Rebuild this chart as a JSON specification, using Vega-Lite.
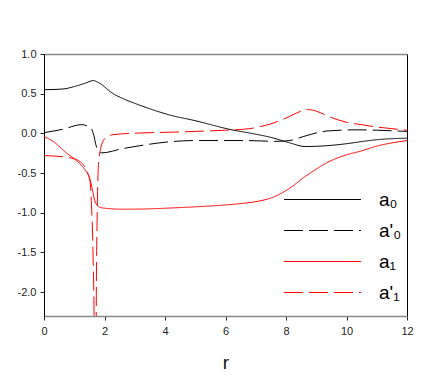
{
  "$schema": "https://vega.github.io/schema/vega-lite/v6.json",
  "width": 363,
  "height": 262,
  "autosize": "none",
  "padding": {"left": 44, "top": 54, "right": 29, "bottom": 60},
  "background": "white",
  "config": {
    "view": {"stroke": "#000", "strokeWidth": 1},
    "font": "Liberation Sans",
    "axis": {"labelFont": "Liberation Sans", "titleFont": "Liberation Sans", "labelColor": "#222", "titleColor": "#111", "grid": false}
  },
  "datasets": {
    "curves": [
      {"r": 0, "v": 0.55, "s": "a₀"}, {"r": 0.64, "v": 0.56, "s": "a₀"}, {"r": 1.0, "v": 0.59, "s": "a₀"}, {"r": 1.35, "v": 0.63, "s": "a₀"}, {"r": 1.63, "v": 0.665, "s": "a₀"}, {"r": 1.8, "v": 0.64, "s": "a₀"}, {"r": 2.29, "v": 0.5, "s": "a₀"}, {"r": 2.6, "v": 0.44, "s": "a₀"}, {"r": 3.06, "v": 0.37, "s": "a₀"}, {"r": 3.5, "v": 0.31, "s": "a₀"}, {"r": 4.17, "v": 0.23, "s": "a₀"}, {"r": 5.0, "v": 0.16, "s": "a₀"}, {"r": 6.15, "v": 0.05, "s": "a₀"}, {"r": 7.0, "v": -0.01, "s": "a₀"}, {"r": 7.5, "v": -0.05, "s": "a₀"}, {"r": 8.13, "v": -0.12, "s": "a₀"}, {"r": 8.63, "v": -0.165, "s": "a₀"}, {"r": 9.35, "v": -0.155, "s": "a₀"}, {"r": 10.0, "v": -0.13, "s": "a₀"}, {"r": 10.56, "v": -0.1, "s": "a₀"}, {"r": 11.0, "v": -0.08, "s": "a₀"}, {"r": 12.0, "v": -0.06, "s": "a₀"},
      {"r": 0, "v": 0.01, "s": "a'₀"}, {"r": 0.6, "v": 0.05, "s": "a'₀"}, {"r": 1.25, "v": 0.11, "s": "a'₀"}, {"r": 1.45, "v": 0.09, "s": "a'₀"}, {"r": 1.55, "v": 0.07, "s": "a'₀"}, {"r": 1.65, "v": -0.03, "s": "a'₀"}, {"r": 1.72, "v": -0.15, "s": "a'₀"}, {"r": 1.8, "v": -0.22, "s": "a'₀"}, {"r": 1.9, "v": -0.245, "s": "a'₀"}, {"r": 2.07, "v": -0.24, "s": "a'₀"}, {"r": 2.5, "v": -0.2, "s": "a'₀"}, {"r": 3.17, "v": -0.155, "s": "a'₀"}, {"r": 4.17, "v": -0.105, "s": "a'₀"}, {"r": 4.94, "v": -0.09, "s": "a'₀"}, {"r": 6.6, "v": -0.09, "s": "a'₀"}, {"r": 7.7, "v": -0.1, "s": "a'₀"}, {"r": 8.13, "v": -0.09, "s": "a'₀"}, {"r": 8.57, "v": -0.04, "s": "a'₀"}, {"r": 9.35, "v": 0.03, "s": "a'₀"}, {"r": 10.34, "v": 0.045, "s": "a'₀"}, {"r": 11.0, "v": 0.04, "s": "a'₀"}, {"r": 12.0, "v": 0.025, "s": "a'₀"},
      {"r": 0, "v": -0.04, "s": "a₁"}, {"r": 0.3, "v": -0.1, "s": "a₁"}, {"r": 0.72, "v": -0.24, "s": "a₁"}, {"r": 1.0, "v": -0.32, "s": "a₁"}, {"r": 1.19, "v": -0.385, "s": "a₁"}, {"r": 1.36, "v": -0.46, "s": "a₁"}, {"r": 1.47, "v": -0.53, "s": "a₁"}, {"r": 1.55, "v": -0.62, "s": "a₁"}, {"r": 1.62, "v": -0.75, "s": "a₁"}, {"r": 1.68, "v": -0.85, "s": "a₁"}, {"r": 1.75, "v": -0.9, "s": "a₁"}, {"r": 1.85, "v": -0.93, "s": "a₁"}, {"r": 2.07, "v": -0.945, "s": "a₁"}, {"r": 2.6, "v": -0.955, "s": "a₁"}, {"r": 3.5, "v": -0.95, "s": "a₁"}, {"r": 4.17, "v": -0.94, "s": "a₁"}, {"r": 5.0, "v": -0.925, "s": "a₁"}, {"r": 6.04, "v": -0.9, "s": "a₁"}, {"r": 6.6, "v": -0.88, "s": "a₁"}, {"r": 7.14, "v": -0.85, "s": "a₁"}, {"r": 7.6, "v": -0.8, "s": "a₁"}, {"r": 7.91, "v": -0.74, "s": "a₁"}, {"r": 8.2, "v": -0.67, "s": "a₁"}, {"r": 8.57, "v": -0.56, "s": "a₁"}, {"r": 9.0, "v": -0.45, "s": "a₁"}, {"r": 9.3, "v": -0.38, "s": "a₁"}, {"r": 10.0, "v": -0.27, "s": "a₁"}, {"r": 10.5, "v": -0.22, "s": "a₁"}, {"r": 11.0, "v": -0.16, "s": "a₁"}, {"r": 11.5, "v": -0.12, "s": "a₁"}, {"r": 12.0, "v": -0.09, "s": "a₁"},
      {"r": 0, "v": -0.28, "s": "a'₁"}, {"r": 0.5, "v": -0.29, "s": "a'₁"}, {"r": 1.0, "v": -0.32, "s": "a'₁"}, {"r": 1.2, "v": -0.36, "s": "a'₁"}, {"r": 1.35, "v": -0.42, "s": "a'₁"}, {"r": 1.45, "v": -0.5, "s": "a'₁"}, {"r": 1.52, "v": -0.6, "s": "a'₁"}, {"r": 1.57, "v": -0.9, "s": "a'₁"}, {"r": 1.62, "v": -1.5, "s": "a'₁"}, {"r": 1.66, "v": -2.5, "s": "a'₁"}, {"r": 1.68, "v": -4, "s": "a'₁"}, {"r": 1.71, "v": -4, "s": "a'₁"}, {"r": 1.73, "v": -2.0, "s": "a'₁"}, {"r": 1.76, "v": -1.0, "s": "a'₁"}, {"r": 1.8, "v": -0.39, "s": "a'₁"}, {"r": 1.88, "v": -0.18, "s": "a'₁"}, {"r": 1.96, "v": -0.09, "s": "a'₁"}, {"r": 2.1, "v": -0.04, "s": "a'₁"}, {"r": 2.29, "v": -0.016, "s": "a'₁"}, {"r": 3.17, "v": 0.005, "s": "a'₁"}, {"r": 4.17, "v": 0.015, "s": "a'₁"}, {"r": 5.0, "v": 0.025, "s": "a'₁"}, {"r": 6.0, "v": 0.04, "s": "a'₁"}, {"r": 6.8, "v": 0.06, "s": "a'₁"}, {"r": 7.2, "v": 0.09, "s": "a'₁"}, {"r": 7.5, "v": 0.12, "s": "a'₁"}, {"r": 8.1, "v": 0.21, "s": "a'₁"}, {"r": 8.57, "v": 0.29, "s": "a'₁"}, {"r": 8.75, "v": 0.3, "s": "a'₁"}, {"r": 9.0, "v": 0.28, "s": "a'₁"}, {"r": 9.5, "v": 0.2, "s": "a'₁"}, {"r": 10.0, "v": 0.14, "s": "a'₁"}, {"r": 10.5, "v": 0.11, "s": "a'₁"}, {"r": 11.0, "v": 0.08, "s": "a'₁"}, {"r": 11.5, "v": 0.06, "s": "a'₁"}, {"r": 12.0, "v": 0.04, "s": "a'₁"}
    ]
  },
  "data": {"name": "curves"},
  "resolve": {"axis": {"x": "independent"}},
  "layer": [
    {
      "mark": {"type": "line", "clip": true, "interpolate": "monotone"},
      "encoding": {
        "x": {"field": "r", "type": "quantitative", "scale": {"domain": [0, 12], "nice": false, "zero": false},
          "axis": {"orient": "bottom", "title": "r", "titleFontSize": 19, "titleFontWeight": "normal", "titlePadding": 17, "values": [0, 2, 4, 6, 8, 10, 12], "labelFontSize": 11, "tickSize": 4, "tickColor": "#222", "domainColor": "#888", "domainWidth": 1.6, "labelPadding": 5, "labelFlush": false}},
        "y": {"field": "v", "type": "quantitative", "scale": {"domain": [-2.3, 1.0], "nice": false, "zero": false},
          "axis": {"title": null, "values": [1.0, 0.5, 0.0, -0.5, -1.0, -1.5, -2.0], "labelExpr": "replace(format(datum.value, '.1f'), '−', '-')", "labelFontSize": 11, "tickSize": 4, "tickColor": "#222", "domainColor": "#000", "labelPadding": 4, "labelFlush": false}},
        "color": {"field": "s", "type": "nominal", "title": null,
          "scale": {"domain": ["a₀", "a'₀", "a₁", "a'₁"], "range": ["#000000", "#000000", "#ff0000", "#ff0000"]},
          "legend": {"orient": "none", "legendX": 268, "legendY": 135, "symbolType": "M-4,0H4", "symbolSize": 370, "symbolStrokeWidth": 1.2, "labelFontSize": 19, "labelFont": "Liberation Sans", "labelColor": "#000", "labelOffset": 46, "rowPadding": 10}},
        "strokeDash": {"field": "s", "type": "nominal", "title": null,
          "scale": {"domain": ["a₀", "a'₀", "a₁", "a'₁"], "range": [[1, 0], [19, 6], [1, 0], [19, 6]]}},
        "strokeWidth": {"field": "s", "type": "nominal", "legend": null,
          "scale": {"domain": ["a₀", "a'₀", "a₁", "a'₁"], "range": [1, 1, 1.4, 1.4]}},
        "detail": {"field": "s"}
      }
    },
    {
      "mark": {"type": "line", "opacity": 0},
      "encoding": {
        "x": {"field": "r", "type": "quantitative", "axis": {"orient": "top", "title": null, "labels": false, "ticks": false, "domainColor": "#888", "domainWidth": 1.6}},
        "y": {"field": "v", "type": "quantitative"}
      }
    }
  ]
}
